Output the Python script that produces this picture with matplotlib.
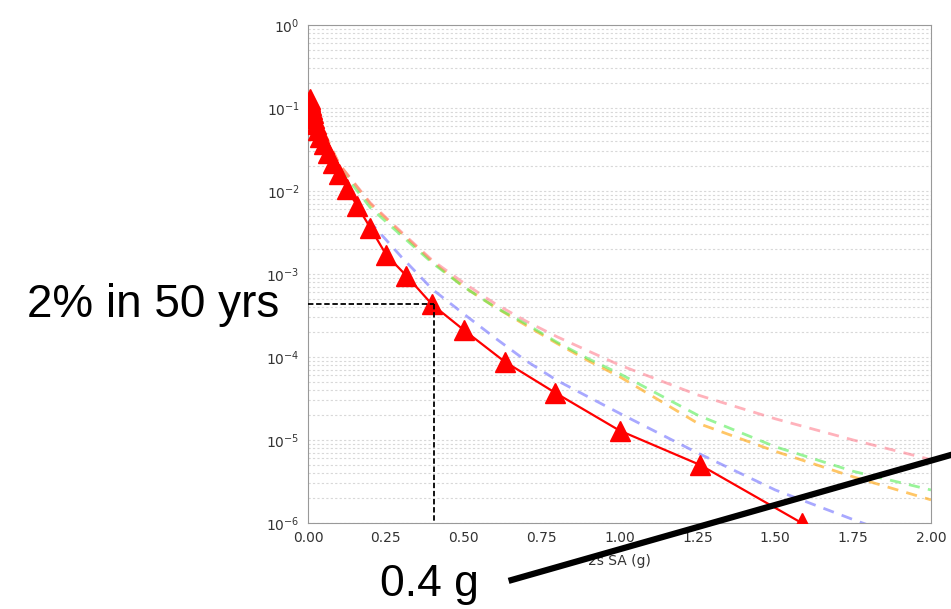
# hazard curve plot with 2% in 50 yrs annotation
import matplotlib
matplotlib.use("Agg")
import matplotlib.pyplot as plt
from matplotlib.lines import Line2D

# mean hazard curve (red, triangles)
sa_mean = [0.005, 0.0063, 0.0079, 0.01, 0.0126, 0.0158, 0.02, 0.0251, 0.0316,
           0.0398, 0.0501, 0.0631, 0.0794, 0.1, 0.126, 0.158, 0.2, 0.251,
           0.316, 0.398, 0.501, 0.631, 0.794, 1.0, 1.259, 1.585]
poe_mean = [0.13, 0.122, 0.115, 0.108, 0.097, 0.087, 0.076, 0.064, 0.054,
            0.045, 0.037, 0.029, 0.022, 0.016, 0.0105, 0.0066, 0.0036, 0.0017,
            0.00095, 0.00043, 0.00021, 8.8e-5, 3.7e-5, 1.3e-5, 5.0e-6, 1.0e-6]

# individual branch curves (dashed)
sa_branch = [0.0, 0.1, 0.2, 0.3, 0.4, 0.5, 0.6, 0.7, 0.8, 0.9, 1.0,
             1.25, 1.5, 1.75, 2.0]
poe_blue = [0.13, 0.017, 4.2e-3, 1.6e-3, 6.5e-4, 3.3e-4, 1.7e-4, 9e-5,
            5.2e-5, 3.3e-5, 2.1e-5, 7e-6, 2.5e-6, 1.1e-6, 5e-7]
poe_orange = [0.13, 0.021, 7e-3, 3.1e-3, 1.4e-3, 7e-4, 4e-4, 2.4e-4,
              1.45e-4, 9e-5, 5.8e-5, 1.6e-5, 7.3e-6, 3.6e-6, 1.9e-6]
poe_green = [0.13, 0.019, 6.3e-3, 2.9e-3, 1.35e-3, 7e-4, 4e-4, 2.5e-4,
             1.5e-4, 9.5e-5, 6.3e-5, 2e-5, 8.3e-6, 4.2e-6, 2.5e-6]
poe_pink = [0.13, 0.021, 7.2e-3, 3.2e-3, 1.45e-3, 7.8e-4, 4.4e-4, 2.7e-4,
            1.75e-4, 1.18e-4, 8e-5, 3.5e-5, 1.8e-5, 1.0e-5, 5.8e-6]

target_poe = 4.3e-4
target_sa = 0.405

xticks = [0.0, 0.25, 0.5, 0.75, 1.0, 1.25, 1.5, 1.75, 2.0]

fig = plt.figure(figsize=(9.51, 6.09), dpi=100)
ax = fig.add_axes([0.3239, 0.1412, 0.9790 - 0.3239, 0.9590 - 0.1412])

ax.set_yscale("log")
ax.set_xlim(0, 2.0)
ax.set_ylim(1e-6, 1.0)

ax.yaxis.grid(True, which="both", linestyle=(0, (2, 2)), color="#d8d8d8", linewidth=0.8)
ax.set_axisbelow(True)

dash_kw = dict(linestyle=(0, (4, 3)), linewidth=2, alpha=0.6)
ax.plot(sa_branch, poe_blue, color="#6f6fff", **dash_kw)
ax.plot(sa_branch, poe_orange, color="#ffa000", **dash_kw)
ax.plot(sa_branch, poe_green, color="#55ee55", **dash_kw)
ax.plot(sa_branch, poe_pink, color="#ff7f8f", **dash_kw)

ax.plot(sa_mean, poe_mean, color="red", linewidth=1.6, marker="^",
        markersize=15, markeredgecolor="red", zorder=5)

# 2% in 50 yrs lookup lines
ax.plot([0, target_sa], [target_poe, target_poe], color="black",
        linestyle=(0, (3, 1.5)), linewidth=1.3, zorder=6)
ax.plot([target_sa, target_sa], [target_poe, 1.05e-6], color="black",
        linestyle=(0, (3, 1.5)), linewidth=1.3, zorder=6)

ax.set_xticks(xticks)
ax.set_xticklabels([f"{v:.2f}" for v in xticks])
ax.set_xlabel("2s SA (g)", fontsize=10, color="#333333", labelpad=6)
ax.tick_params(length=0, labelsize=10, labelcolor="#333333", pad=6)
ax.tick_params(axis="y", which="minor", length=0)
for s in ax.spines.values():
    s.set_color("#999999")

fig.text(0.161, 0.499, "2% in 50 yrs", fontsize=33, family="Liberation Sans",
         ha="center", va="center")
fig.text(0.452, 1 - 596 / 609, "0.4 g", fontsize=32, family="Liberation Sans",
         ha="center", va="baseline")
fig.add_artist(Line2D([0.538, 1.0], [0.0476, 0.253], color="black",
                      linewidth=4.5, transform=fig.transFigure, zorder=10))

fig.savefig("out.png", dpi=100)
